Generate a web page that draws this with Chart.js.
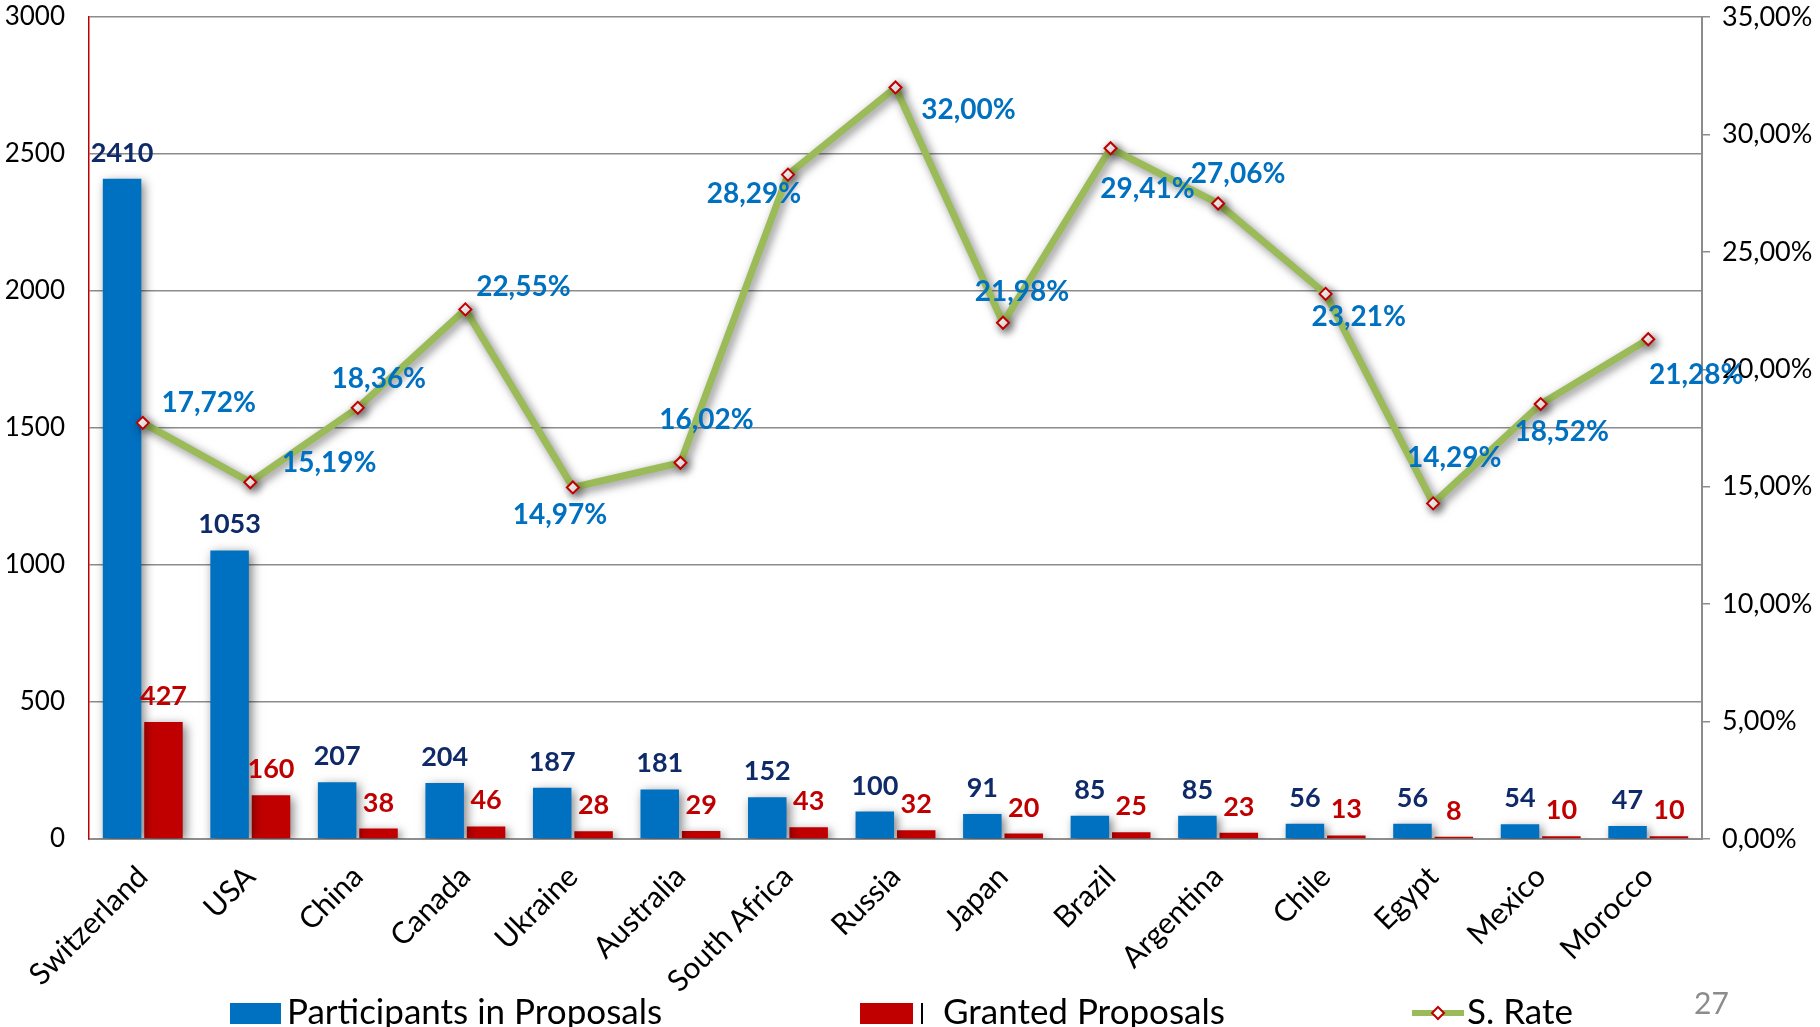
<!DOCTYPE html>
<html>
<head>
<meta charset="utf-8">
<script src="https://cdn.jsdelivr.net/npm/chart.js@4.4.1/dist/chart.umd.min.js"></script>
<style>
  html, body { margin: 0; padding: 0; background: #fff; }
  #wrap { width: 1820px; height: 1027px; position: relative; }
</style>
</head>
<body>
<div id="wrap"><canvas id="chart" width="1820" height="1027"></canvas></div>
<script>
// data
const countries = ['Switzerland','USA','China','Canada','Ukraine','Australia','South Africa','Russia','Japan','Brazil','Argentina','Chile','Egypt','Mexico','Morocco'];
const participants = [2410, 1053, 207, 204, 187, 181, 152, 100, 91, 85, 85, 56, 56, 54, 47];
const granted = [427, 160, 38, 46, 28, 29, 43, 32, 20, 25, 23, 13, 8, 10, 10];
const successRate = [17.72, 15.19, 18.36, 22.55, 14.97, 16.02, 28.29, 32.00, 21.98, 29.41, 27.06, 23.21, 14.29, 18.52, 21.28];
const seriesNames = ['Participants in Proposals', 'Granted Proposals', 'S. Rate'];
const pageNumber = '27';

// where each rate label sits relative to its point (dx, dy in px)
const rateLabelOffsets = [[66,-20],[79,-19],[21,-29],[58,-22],[-13,28],[26,-43],[-34,19],[73,23],[19,-31],[37,41],[20,-30],[33,23],[21,-45],[21,28],[48,36]];

const FONT = 'Lato, "Open Sans", sans-serif';
const BLUE = '#0070c0', RED = '#c00000', GREEN = '#9bbb59', NAVY = '#0f2a68';
const fmtPct = v => v.toFixed(2).replace('.', ',') + '%';

const shadowPlugin = {
    id: 'shadow',
    beforeDatasetsDraw(chart) {
        const ctx = chart.ctx;
        ctx.save();
        ctx.shadowColor = 'rgba(0,0,0,0.5)';
        ctx.shadowBlur = 10;
        ctx.shadowOffsetX = 3;
        ctx.shadowOffsetY = 3;
    },
    afterDatasetsDraw(chart) { chart.ctx.restore(); }
};

const labelPlugin = {
    id: 'valueLabels',
    afterDatasetsDraw(chart) {
        const ctx = chart.ctx;
        ctx.save();
        ctx.font = `bold 27px ${FONT}`;
        ctx.textAlign = 'center';
        // bar labels
        [[0, NAVY], [1, RED]].forEach(([di, col]) => {
            const meta = chart.getDatasetMeta(di);
            ctx.fillStyle = col;
            ctx.textBaseline = 'alphabetic';
            meta.data.forEach((bar, i) => {
                ctx.fillText(String(chart.data.datasets[di].data[i]), bar.x, bar.y - 17);
            });
        });
        // rate labels
        const lm = chart.getDatasetMeta(2);
        ctx.font = `bold 28px ${FONT}`;
        ctx.fillStyle = BLUE;
        ctx.textBaseline = 'middle';
        lm.data.forEach((pt, i) => {
            const [dx, dy] = rateLabelOffsets[i];
            ctx.fillText(fmtPct(successRate[i]), pt.x + dx, pt.y + dy);
        });
        ctx.restore();
    }
};

const legendPlugin = {
    id: 'customLegend',
    afterDraw(chart) {
        const ctx = chart.ctx;
        const y = 1013;
        ctx.save();
        ctx.font = `35px ${FONT}`;
        ctx.textBaseline = 'middle';
        ctx.textAlign = 'left';
        // participants
        ctx.fillStyle = BLUE; ctx.fillRect(230, y - 10, 51, 21);
        ctx.fillStyle = '#000'; ctx.fillText(seriesNames[0], 287, y);
        // granted
        ctx.fillStyle = RED; ctx.fillRect(860, y - 10, 53, 21);
        ctx.fillStyle = '#000'; ctx.fillRect(921, y - 10, 2, 21);
        ctx.fillText(seriesNames[1], 943, y);
        // rate
        ctx.strokeStyle = GREEN; ctx.lineWidth = 6;
        ctx.beginPath(); ctx.moveTo(1412, y); ctx.lineTo(1464, y); ctx.stroke();
        ctx.fillStyle = '#fff'; ctx.strokeStyle = RED; ctx.lineWidth = 2;
        ctx.beginPath(); ctx.moveTo(1438, y - 6); ctx.lineTo(1444, y); ctx.lineTo(1438, y + 6); ctx.lineTo(1432, y); ctx.closePath();
        ctx.fill(); ctx.stroke();
        ctx.fillStyle = '#000'; ctx.fillText(seriesNames[2], 1467, y);
        // page number
        ctx.fillStyle = '#8c8c8c'; ctx.font = `30px ${FONT}`;
        ctx.fillText(pageNumber, 1694, 1004);
        ctx.restore();
    }
};

new Chart(document.getElementById('chart'), {
    type: 'bar',
    data: {
        labels: countries,
        datasets: [
            { label: seriesNames[0], data: participants, backgroundColor: BLUE, yAxisID: 'y', order: 1, categoryPercentage: 0.77, barPercentage: 0.93 },
            { label: seriesNames[1], data: granted, backgroundColor: RED, yAxisID: 'y', order: 2, categoryPercentage: 0.77, barPercentage: 0.93 },
            { type: 'line', label: seriesNames[2], data: successRate, yAxisID: 'y1', order: 0,
              borderColor: GREEN, borderWidth: 7, tension: 0, pointStyle: 'rectRot', pointRadius: 6,
              pointBackgroundColor: '#fff', pointBorderColor: RED, pointBorderWidth: 2 }
        ]
    },
    options: {
        responsive: false, animation: false, maintainAspectRatio: false,
        layout: { padding: { top: 17, left: 0, right: 0, bottom: 0 } },
        plugins: { legend: { display: false }, tooltip: { enabled: false } },
        scales: {
            x: {
                grid: { display: false },
                border: { color: '#8e8e8e', width: 2 },
                ticks: { color: '#000', font: { family: FONT, size: 30 }, minRotation: 45, maxRotation: 45, autoSkip: false, padding: 12 },
                afterFit(s) { s.height = 188; }
            },
            y: {
                position: 'left', min: 0, max: 3000,
                grid: { color: '#8c8c8c', lineWidth: 1.5, drawTicks: false },
                border: { color: RED, width: 1.5 },
                ticks: { stepSize: 500, color: '#000', font: { family: FONT, size: 26 }, padding: 24, callback: v => String(v) },
                afterFit(s) { s.width = 89; s.paddingTop = 0; s.paddingBottom = 0; }
            },
            y1: {
                position: 'right', min: 0, max: 35,
                grid: { drawOnChartArea: false, color: '#8c8c8c', tickLength: 8, lineWidth: 1.5 },
                border: { color: '#8c8c8c', width: 2 },
                ticks: { stepSize: 5, color: '#000', font: { family: FONT, size: 27 }, padding: 12, callback: v => fmtPct(v) },
                afterFit(s) { s.width = 118; s.paddingTop = 0; s.paddingBottom = 0; }
            }
        }
    },
    plugins: [shadowPlugin, labelPlugin, legendPlugin]
});
</script>
</body>
</html>
